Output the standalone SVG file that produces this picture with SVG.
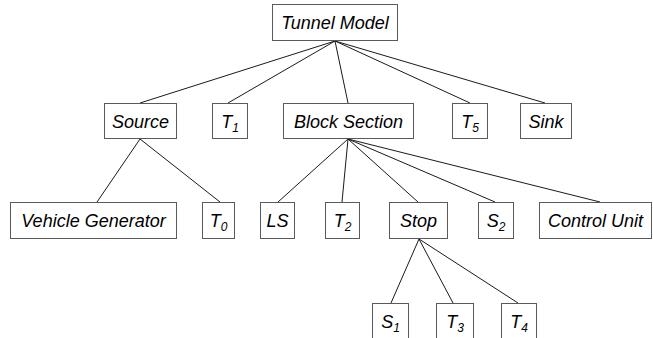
<svg xmlns="http://www.w3.org/2000/svg" width="653" height="338" viewBox="0 0 653 338">
<style>
rect{fill:#fff;stroke:#5a5a5a;stroke-width:1}
text{font-family:"Liberation Sans",Arial,sans-serif;font-style:italic;font-size:18px;fill:#000;text-anchor:middle}
.sub{font-size:12px}
#connectors line{stroke:#1a1a1a;stroke-width:1}
</style>
<rect x="0" y="0" width="653" height="338" style="stroke:none"/>
<g id="connectors">
<line x1="335" y1="41" x2="140" y2="103"/>
<line x1="335" y1="41" x2="228" y2="103"/>
<line x1="335" y1="41" x2="348" y2="103"/>
<line x1="335" y1="41" x2="470" y2="103"/>
<line x1="335" y1="41" x2="545" y2="103"/>
<line x1="140" y1="139" x2="97" y2="202"/>
<line x1="140" y1="139" x2="220" y2="202"/>
<line x1="348" y1="139" x2="278" y2="202"/>
<line x1="348" y1="139" x2="342" y2="202"/>
<line x1="348" y1="139" x2="418" y2="202"/>
<line x1="348" y1="139" x2="495" y2="202"/>
<line x1="348" y1="139" x2="600" y2="202"/>
<line x1="419" y1="239" x2="391" y2="303"/>
<line x1="419" y1="239" x2="453" y2="303"/>
<line x1="419" y1="239" x2="518" y2="303"/>
</g>
<g id="tunnel-model"><rect x="272.5" y="4.5" width="125" height="36"/><text x="335" y="29">Tunnel Model</text></g>
<g id="source"><rect x="104.5" y="103.5" width="72" height="35"/><text x="140.5" y="127.5">Source</text></g>
<g id="t1"><rect x="212.5" y="103.5" width="35" height="35"/><text x="230" y="127.5">T<tspan class="sub" dy="4">1</tspan></text></g>
<g id="block-section"><rect x="283.5" y="103.5" width="130" height="35"/><text x="348.5" y="127.5">Block Section</text></g>
<g id="t5"><rect x="452.5" y="103.5" width="35" height="35"/><text x="470" y="127.5">T<tspan class="sub" dy="4">5</tspan></text></g>
<g id="sink"><rect x="520.5" y="103.5" width="51" height="35"/><text x="546" y="127.5">Sink</text></g>
<g id="vehicle-generator"><rect x="10.5" y="202.5" width="166" height="36"/><text x="93.5" y="227">Vehicle Generator</text></g>
<g id="t0"><rect x="202.5" y="202.5" width="32" height="36"/><text x="218.5" y="227">T<tspan class="sub" dy="4">0</tspan></text></g>
<g id="ls"><rect x="260.5" y="202.5" width="34" height="36"/><text x="277.5" y="227">LS</text></g>
<g id="t2"><rect x="325.5" y="202.5" width="34" height="36"/><text x="342.5" y="227">T<tspan class="sub" dy="4">2</tspan></text></g>
<g id="stop"><rect x="389.5" y="202.5" width="58" height="36"/><text x="418.5" y="227">Stop</text></g>
<g id="s2"><rect x="478.5" y="202.5" width="35" height="36"/><text x="496" y="227">S<tspan class="sub" dy="4">2</tspan></text></g>
<g id="control-unit"><rect x="539.5" y="202.5" width="112" height="36"/><text x="595.5" y="227">Control Unit</text></g>
<g id="s1"><rect x="372.5" y="303.5" width="36" height="40"/><text x="390.5" y="328">S<tspan class="sub" dy="4">1</tspan></text></g>
<g id="t3"><rect x="436.5" y="303.5" width="37" height="40"/><text x="455" y="328">T<tspan class="sub" dy="4">3</tspan></text></g>
<g id="t4"><rect x="501.5" y="303.5" width="35" height="40"/><text x="519" y="328">T<tspan class="sub" dy="4">4</tspan></text></g>
</svg>
